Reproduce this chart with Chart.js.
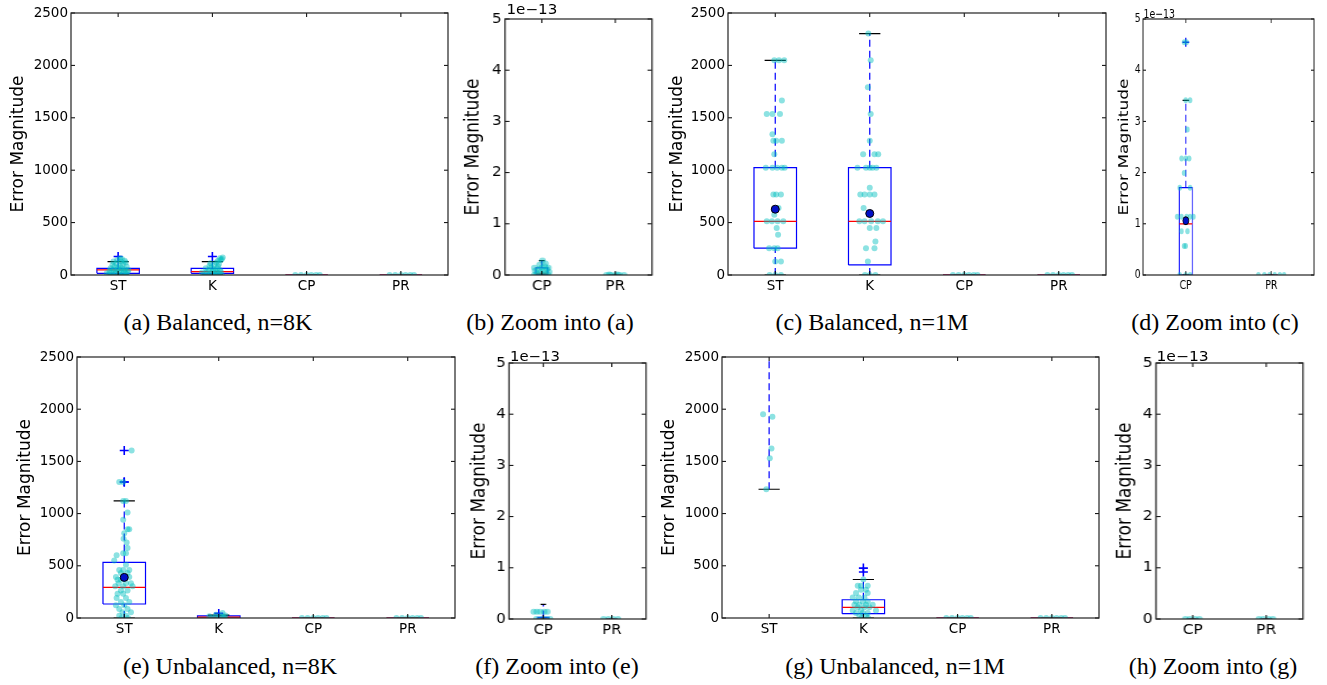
<!DOCTYPE html>
<html><head><meta charset="utf-8">
<script src="https://cdn.jsdelivr.net/npm/chart.js@4.4.1/dist/chart.umd.min.js"></script>
<style>
html,body{margin:0;padding:0;background:#fff;}
#page{position:relative;width:1327px;height:685px;overflow:hidden;background:#fff;}
.panel{position:absolute;transform-origin:0 0;}
.panel canvas{position:absolute;left:0;top:0;}
.offset{position:absolute;font-family:'DejaVu Sans';line-height:13px;color:#000;white-space:nowrap;}
.cap{position:absolute;font-family:'Liberation Serif','Times New Roman',serif;font-size:24px;line-height:28px;color:#000;white-space:nowrap;transform:translateX(-50%);}
</style></head><body><div id="page"></div>
<script>
// ---------------- DATA ----------------
const catsBig = ['ST', 'K', 'CP', 'PR'];
const catsZoom = ['CP', 'PR'];
const yTicksBig = [0, 500, 1000, 1500, 2000, 2500];
const yTicksZoom = [0, 1, 2, 3, 4, 5];       // units of 1e-13
const offsetLabel = '1e\u221213';
const yTitle = 'Error Magnitude';
const captions = ['(a) Balanced, n=8K', '(b) Zoom into (a)', '(c) Balanced, n=1M', '(d) Zoom into (c)',
                  '(e) Unbalanced, n=8K', '(f) Zoom into (e)', '(g) Unbalanced, n=1M', '(h) Zoom into (g)'];

// box stats: [lowWhisker, q1, median, q3, highWhisker]
const boxA = [[0, 16, 48, 64, 128], [0, 16, 32, 64, 128], [0, 0, 0, 0, 0], [0, 0, 0, 0, 0]];
const fliersA = [[176], [176], [], []];
const meansA = [null, null, null, null];
const zeroPts = [[0, -0.12], [0, -0.06], [0, 0], [0, 0.05], [0, 0.1], [0, 0.14]];
const pointsA = [
  [[0,-0.06],[0,0.02],[0,0.09],[8,-0.1],[8,0.05],[16,-0.03],[16,0.08],[16,-0.12],[24,0.01],[24,-0.07],[32,0.1],[32,-0.02],[40,0.06],[40,-0.09],[48,0.03],[48,-0.05],[48,0.11],[56,-0.01],[56,0.07],[64,-0.08],[64,0.04],[72,0.0],[80,-0.04],[80,0.09],[88,0.02],[96,-0.06],[104,0.05],[112,-0.02],[120,0.08],[128,-0.05],[128,0.03],[136,0.07],[144,-0.01],[152,0.04],[160,0.02]],
  [[0,-0.05],[0,0.04],[0,0.1],[8,-0.09],[8,0.02],[16,-0.02],[16,0.07],[24,-0.11],[24,0.05],[32,0.0],[32,-0.06],[32,0.09],[40,0.03],[48,-0.04],[48,0.08],[56,0.01],[64,-0.07],[64,0.05],[72,-0.01],[80,0.06],[88,-0.03],[96,0.02],[104,0.07],[112,-0.02],[120,0.04],[136,0.06],[144,0.09],[152,0.1],[160,0.08],[168,0.11]],
  zeroPts, zeroPts
];

const boxB = [[0, 0.01, 0.03, 0.14, 0.28], [0, 0, 0, 0, 0]];
const fliersB = [[], []];
const meansB = [null, null];
const pointsB = [
  [[0,-0.1],[0,-0.04],[0,0.03],[0,0.09],[0.028,-0.07],[0.028,0.05],[0.057,-0.02],[0.057,0.1],[0.085,-0.09],[0.085,0.03],[0.114,0.07],[0.114,-0.04],[0.142,0.0],[0.142,-0.1],[0.142,0.09],[0.17,0.04],[0.2,-0.03],[0.227,0.05],[0.284,0.01]],
  [[0,-0.12],[0,-0.06],[0,0],[0,0.06],[0,0.12],[0.01,0.03],[0.01,-0.08]]
];

const boxC = [[0, 256, 512, 1024, 2048], [0, 96, 512, 1024, 2304], [0, 0, 0, 0, 0], [0, 0, 0, 0, 0]];
const fliersC = [[], [], [], []];
const meansC = [628, 587, null, null];
const pointsC = [
  [[2048,-0.01],[2048,0.04],[2048,0.095],[1664,0.07],[1536,-0.09],[1536,-0.03],[1536,0.05],[1344,-0.03],[1280,-0.02],[1280,0.01],[1280,0.07],[1152,-0.01],[1024,-0.1],[1024,-0.03],[1024,0.02],[1024,0.07],[1024,0.1],[768,-0.02],[768,0.01],[768,0.06],[640,0.035],[576,-0.01],[512,-0.09],[512,-0.035],[512,0.025],[512,0.085],[448,0.015],[384,0.03],[256,-0.065],[256,-0.01],[256,0.025],[128,0.0],[128,0.06],[0,-0.06],[0,0.0],[0,0.06]],
  [[2304,-0.015],[2048,0.01],[1792,-0.02],[1536,0.01],[1280,0.0],[1152,-0.07],[1152,0.05],[1152,0.09],[1024,-0.13],[1024,-0.04],[1024,0.0],[1024,0.03],[1024,0.07],[832,0.0],[768,-0.1],[768,-0.055],[768,0.0],[768,0.05],[640,-0.065],[512,-0.11],[512,-0.055],[512,0.015],[512,0.085],[512,0.14],[448,0.0],[448,0.07],[320,0.06],[256,-0.04],[256,0.05],[128,-0.02],[0,-0.05],[0,0.0],[0,0.06]],
  zeroPts, zeroPts
];

const boxD = [[0, 0, 1.0, 1.705, 3.411], [0, 0, 0, 0, 0]];
const fliersD = [[4.547], []];
const meansD = [1.06, null];
const pointsD = [
  [[4.547,-0.02],[4.547,0.01],[3.411,0.0],[3.411,0.05],[2.842,0.02],[2.274,-0.05],[2.274,0.0],[2.274,0.04],[1.99,-0.02],[1.705,-0.07],[1.705,0.05],[1.137,-0.1],[1.137,-0.05],[1.137,0.01],[1.137,0.05],[1.137,0.09],[0.853,-0.05],[0.853,0.02],[0.568,-0.02],[0.568,0.0],[0,-0.07],[0,0.0],[0,0.05]],
  [[0,-0.15],[0,-0.08],[0,-0.02],[0,0.04],[0,0.1],[0,0.15]]
];

const boxE = [[0, 134, 293, 532, 1121], [0, 0, 8, 20, 28], [0, 0, 0, 0, 0], [0, 0, 0, 0, 0]];
const fliersE = [[1303, 1303, 1605], [44], [], []];
const meansE = [389, null, null, null];
const pointsE = [
  [[1605,0.078],[1303,-0.053],[1303,-0.011],[1121,-0.011],[1121,0.018],[1010,0.035],[940,-0.011],[850,0.035],[850,0.053],[812,0.0],[760,-0.007],[723,0.025],[670,0.035],[620,-0.011],[620,0.018],[600,-0.081],[550,-0.106],[510,0.018],[460,-0.053],[460,-0.011],[460,0.053],[430,-0.035],[430,0.035],[392,-0.088],[392,0.0],[392,0.053],[366,-0.071],[366,-0.035],[334,-0.06],[334,0.018],[334,0.071],[303,-0.095],[303,-0.011],[303,0.088],[264,-0.035],[264,0.035],[232,-0.071],[232,-0.011],[191,-0.081],[191,0.018],[153,-0.035],[153,0.053],[121,-0.088],[121,0.0],[86,-0.053],[86,0.035],[54,-0.018],[54,0.071],[22,-0.053],[22,0.018],[0,-0.03],[0,0.04]],
  [[0,-0.08],[0,0.0],[0,0.06],[8,-0.04],[8,0.05],[16,-0.1],[16,0.02],[24,0.07],[32,-0.03],[48,0.04]],
  zeroPts, zeroPts
];

const boxF = [[0, 0, 0, 0.03, 0.284], [0, 0, 0, 0, 0]];
const fliersF = [[], []];
const meansF = [null, null];
const pointsF = [
  [[0.142,-0.14],[0.142,-0.094],[0.142,-0.047],[0.142,0.014],[0.142,0.061],[0,-0.1],[0,-0.03],[0,0.04],[0,0.1]],
  [[0,-0.12],[0,-0.05],[0,0.02],[0,0.09]]
];

const boxG = [[1233, 2600, 3300, 4200, 6000], [0, 41, 102, 175, 369], [0, 0, 0, 0, 0], [0, 0, 0, 0, 0]];
const fliersG = [[], [440, 478], [], []];
const meansG = [null, null, null, null];
const pointsG = [
  [[1952,-0.064],[1927,0.035],[1624,0.025],[1529,0.007],[1233,-0.03]],
  [[369,0.0],[309,-0.06],[309,-0.025],[309,0.046],[270,-0.025],[270,0.028],[239,-0.078],[239,0.046],[197,-0.113],[197,-0.049],[197,0.011],[159,-0.078],[159,-0.007],[159,0.046],[127,-0.095],[127,-0.042],[127,0.028],[127,0.099],[102,-0.06],[102,0.011],[102,0.064],[73,-0.113],[73,-0.025],[73,0.134],[48,-0.078],[48,-0.007],[48,0.046],[22,-0.042],[22,0.028],[0,-0.02],[0,0.05]],
  zeroPts, zeroPts
];

const boxH = [[0, 0, 0, 0, 0], [0, 0, 0, 0, 0]];
const fliersH = [[], []];
const meansH = [null, null];
const pointsH = [
  [[0,-0.1],[0,-0.04],[0,0.03],[0,0.09]],
  [[0,-0.1],[0,-0.04],[0,0.03],[0,0.09]]
];

// ---------------- LAYOUT / STYLE ----------------
const panels = [
  {L:{left:0,top:0,width:455,height:300,sx:1,area:[71,13,448,275],titleX:19,boxW:0.45,tick:13.5},
   D:{cats:catsBig,box:boxA,fliers:fliersA,means:meansA,points:pointsA,yTicks:yTicksBig}},
  {L:{left:455,top:0,width:205,height:300,sx:1.12,area:[505,19,652,275],titleX:474,boxW:0.163,tick:13.5,off:[506.5,3]},
   D:{cats:catsZoom,box:boxB,fliers:fliersB,means:meansB,points:pointsB,yTicks:yTicksZoom}},
  {L:{left:660,top:0,width:450,height:300,sx:1,area:[728,13,1106,275],titleX:677.5,boxW:0.45,tick:13.5},
   D:{cats:catsBig,box:boxC,fliers:fliersC,means:meansC,points:pointsC,yTicks:yTicksBig}},
  {L:{left:1110,top:0,width:217,height:300,sx:0.75,area:[1143,19,1314,275],titleX:1125,boxW:0.152,tick:12.5,off:[1143.5,7]},
   D:{cats:catsZoom,box:boxD,fliers:fliersD,means:meansD,points:pointsD,yTicks:yTicksZoom}},
  {L:{left:0,top:340,width:460,height:300,sx:1,area:[77,357,455,618],titleX:26,boxW:0.45,tick:13.5},
   D:{cats:catsBig,box:boxE,fliers:fliersE,means:meansE,points:pointsE,yTicks:yTicksBig}},
  {L:{left:455,top:340,width:205,height:300,sx:1.1,area:[509,363,646,619],titleX:480,boxW:0.163,tick:13.5,off:[510,350]},
   D:{cats:catsZoom,box:boxF,fliers:fliersF,means:meansF,points:pointsF,yTicks:yTicksZoom}},
  {L:{left:660,top:340,width:450,height:300,sx:1,area:[722,357,1099,618],titleX:670,boxW:0.45,tick:13.5},
   D:{cats:catsBig,box:boxG,fliers:fliersG,means:meansG,points:pointsG,yTicks:yTicksBig}},
  {L:{left:1110,top:340,width:217,height:300,sx:1.15,area:[1156,363,1303,619],titleX:1125.7,boxW:0.163,tick:13.5,off:[1156.5,350]},
   D:{cats:catsZoom,box:boxH,fliers:fliersH,means:meansH,points:pointsH,yTicks:yTicksZoom}}
];
const captionPos = [[218,308],[550,308],[872,308],[1215,308],[230,652],[557,652],[895,652],[1213,652]];

Chart.defaults.font.family = 'DejaVu Sans';
Chart.defaults.color = '#000';

const framePlugin = {
  id: 'frame',
  afterDatasetsDraw(chart) {
    const {ctx, chartArea: a, scales: {x, y}} = chart;
    ctx.save();
    ctx.strokeStyle = '#000';
    ctx.lineWidth = 1;
    ctx.beginPath();
    y.ticks.forEach(t => {
      const py = y.getPixelForValue(t.value);
      ctx.moveTo(a.left, py); ctx.lineTo(a.left + 4, py);
      ctx.moveTo(a.right, py); ctx.lineTo(a.right - 4, py);
    });
    x.ticks.forEach(t => {
      const px = x.getPixelForValue(t.value);
      ctx.moveTo(px, a.bottom); ctx.lineTo(px, a.bottom - 4);
      ctx.moveTo(px, a.top); ctx.lineTo(px, a.top + 4);
    });
    ctx.stroke();
    ctx.strokeStyle = '#222';
    ctx.lineWidth = 1.2;
    ctx.strokeRect(a.left, a.top, a.right - a.left, a.bottom - a.top);
    ctx.restore();
  }
};

function buildDatasets(D, L) {
  const hw = L.boxW / 2, cw = L.boxW / 4;
  const boxPts = [], whisk = [], caps = [], meds = [], fl = [], pts = [], mns = [];
  D.box.forEach((b, i) => {
    const c = i + 1;
    const [lo, q1, md, q3, hi] = b;
    boxPts.push({x:c-hw,y:q1},{x:c+hw,y:q1},{x:c+hw,y:q3},{x:c-hw,y:q3},{x:c-hw,y:q1},{x:c,y:null});
    whisk.push({x:c,y:q3},{x:c,y:hi},{x:c,y:null},{x:c,y:lo},{x:c,y:q1},{x:c,y:null});
    caps.push({x:c-cw,y:hi},{x:c+cw,y:hi},{x:c,y:null},{x:c-cw,y:lo},{x:c+cw,y:lo},{x:c,y:null});
    meds.push({x:c-hw,y:md},{x:c+hw,y:md},{x:c,y:null});
    D.fliers[i].forEach(v => fl.push({x:c, y:v}));
    D.points[i].forEach(([v, o]) => pts.push({x:c+o, y:v}));
    if (D.means[i] != null) mns.push({x:c, y:D.means[i]});
  });
  const line = (data, color, order, dash) => ({type:'line', data, borderColor:color, borderWidth:1.2,
    borderDash: dash || [], pointRadius:0, fill:false, tension:0, spanGaps:false, clip:0, order});
  return [
    {type:'scatter', data:mns, pointRadius:4, pointStyle:'circle', backgroundColor:'#0010c8', borderColor:'#000', borderWidth:1, clip:0, order:0},
    {type:'scatter', data:pts, pointRadius:3, backgroundColor:'rgba(0,190,190,0.45)', borderWidth:0, clip:0, order:1},
    {type:'scatter', data:fl, pointRadius:4.5, pointStyle:'cross', borderColor:'#0000ff', borderWidth:1.6, clip:0, order:2},
    line(meds, '#ff0000', 3),
    line(caps, '#000000', 4),
    line(whisk, '#0000ff', 5, [7, 4]),
    line(boxPts, '#0000ff', 6)
  ];
}

function makePanel(P) {
  const {L, D} = P;
  const page = document.getElementById('page');
  const natW = Math.round(L.width / L.sx);
  const wrap = document.createElement('div');
  wrap.className = 'panel';
  wrap.style.left = L.left + 'px'; wrap.style.top = L.top + 'px';
  wrap.style.width = natW + 'px'; wrap.style.height = L.height + 'px';
  wrap.style.transform = 'scaleX(' + L.sx + ')';
  const cv = document.createElement('canvas');
  cv.width = natW; cv.height = L.height;
  cv.style.width = natW + 'px'; cv.style.height = L.height + 'px';
  wrap.appendChild(cv);
  page.appendChild(wrap);
  if (L.off) {
    const o = document.createElement('div');
    o.className = 'offset';
    o.style.fontSize = L.tick + 'px';
    o.style.left = ((L.off[0] - L.left) / L.sx) + 'px';
    o.style.top = (L.off[1] - L.top) + 'px';
    o.textContent = offsetLabel;
    wrap.appendChild(o);
  }
  const aL = (L.area[0] - L.left) / L.sx, aR = (L.area[2] - L.left) / L.sx;
  const aT = L.area[1] - L.top, aB = L.area[3] - L.top;
  const xAxisH = 25;
  const titleSize = 17;
  const titlePad = (L.titleX - L.left) / L.sx - titleSize / 2;
  const cats = D.cats, yTicks = D.yTicks;
  new Chart(cv, {
    type: 'scatter',
    data: {datasets: buildDatasets(D, L)},
    options: {
      responsive: false, animation: false, devicePixelRatio: 1, events: [],
      layout: {autoPadding: false, padding: {left: 0, top: aT, right: natW - aR, bottom: L.height - aB - xAxisH}},
      plugins: {legend: {display: false}, tooltip: {enabled: false}},
      scales: {
        x: {
          type: 'linear', min: 0.5, max: cats.length + 0.5,
          grid: {display: false, drawTicks: false}, border: {display: false},
          afterBuildTicks: s => { s.ticks = cats.map((c, i) => ({value: i + 1})); },
          ticks: {autoSkip: false, maxRotation: 0, padding: 3.5, font: {size: L.tick}, color: '#000',
                  callback: v => cats[Math.round(v) - 1] || ''},
          afterFit: s => { s.height = xAxisH; }
        },
        y: {
          type: 'linear', min: yTicks[0], max: yTicks[yTicks.length - 1],
          grid: {display: false, drawTicks: false}, border: {display: false},
          afterBuildTicks: s => { s.ticks = yTicks.map(v => ({value: v})); },
          ticks: {autoSkip: false, padding: 3, font: {size: L.tick}, color: '#000', callback: v => String(v)},
          title: {display: true, text: yTitle, font: {size: titleSize, lineHeight: 1}, color: '#000',
                  padding: {top: titlePad, bottom: 0}},
          afterFit: s => { s.width = aL; }
        }
      }
    },
    plugins: [framePlugin]
  });
}

panels.forEach(makePanel);

captions.forEach((t, i) => {
  const d = document.createElement('div');
  d.className = 'cap';
  d.style.left = captionPos[i][0] + 'px';
  d.style.top = captionPos[i][1] + 'px';
  d.textContent = t;
  document.getElementById('page').appendChild(d);
});
</script></body></html>
